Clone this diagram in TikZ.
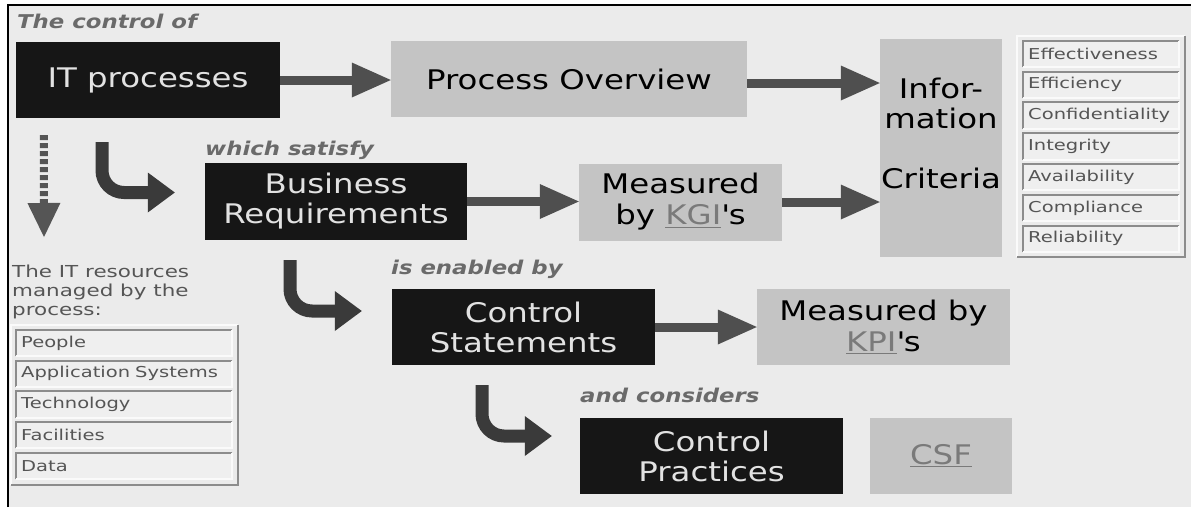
\documentclass[tikz,border=0pt]{standalone}
\usepackage{fontspec}
\setmainfont{DejaVu Sans}[FakeStretch=1.2]
\newfontfamily\listfont{DejaVu Sans}[FakeStretch=1.3]
\usetikzlibrary{arrows.meta}
\definecolor{pagegrey}{HTML}{EBEBEB}
\definecolor{boxdark}{HTML}{161616}
\definecolor{boxgrey}{HTML}{C4C4C4}
\definecolor{boxtext}{HTML}{E2E2E2}
\definecolor{headgrey}{HTML}{6A6A6A}
\definecolor{arrowgrey}{HTML}{4F4F4F}
\definecolor{bendgrey}{HTML}{3A3A3A}
\definecolor{linkgrey}{HTML}{7A7A7A}
\definecolor{itemgrey}{HTML}{555555}
\definecolor{itembg}{HTML}{EFEFEF}
\newcommand{\linkword}[1]{\textcolor{linkgrey}{\underline{#1}}}
\tikzset{
	darkbox/.style = {fill = boxdark, text = boxtext, align = center, inner sep = 0, font = \fontsize{27}{30}\selectfont},
	greybox/.style = {fill = boxgrey, text = black, align = center, inner sep = 0, font = \fontsize{27}{31}\selectfont},
	heading/.style = {anchor = base west, text = headgrey, inner sep = 0, font = \fontsize{19}{22}\selectfont\bfseries\itshape},
	flatarrow/.style = {draw = arrowgrey, line width = 9pt, -{Triangle[length = 39pt, width = 35pt, line width = 0pt]}},
	bentarrow/.style = {draw = bendgrey, line width = 13pt, rounded corners = 22pt, -{Triangle[length = 27pt, width = 40pt, line width = 0pt]}},
	dotarrow/.style = {draw = itemgrey, line width = 8pt, dash pattern = on 5pt off 3pt, -{Triangle[length = 34pt, width = 33pt, line width = 0pt]}},
	listitem/.style = {anchor = west, fill = itembg, minimum height = 26pt, inner xsep = 5pt, inner ysep = 0, align = left, text = itemgrey, font = \listfont\fontsize{15}{18}\selectfont},
	edgedark/.style = {draw = black!45, line width = 2pt},
	edgelight/.style = {draw = white!98!black, line width = 2pt}
}
\begin{document}
\begin{tikzpicture}[x = 1pt, y = -1pt]
	\useasboundingbox (0, 0) rectangle (1191, 507);
	\fill [pagegrey] (8, 5) rectangle (1191, 507);
	\draw [line width = 2.5pt] (8, 507) |- (1191, 5);

	\node[heading] (ctrlof) at (17, 28) {The control of};
	\node[heading] (satisfy) at (205, 155) {which satisfy};
	\node[heading] (enabled) at (391, 274) {is enabled by};
	\node[heading] (considers) at (580, 402) {and considers};

	\node[darkbox, minimum width = 264pt, minimum height = 76pt] (it) at (148, 80) {IT processes};
	\node[greybox, minimum width = 356pt, minimum height = 76pt] (po) at (569, 79) {Process Overview};
	\node[greybox, minimum width = 122pt, minimum height = 218pt] (info) at (941, 148) {};
	\node[anchor = north, align = center, inner sep = 0, text = black, font = \fontsize{27}{30}\selectfont] (infolabel) at (941, 77.5) {Infor-\\mation\\[30pt]Criteria};
	\node[darkbox, minimum width = 262pt, minimum height = 77pt] (br) at (336, 201.5) {Business\\Requirements};
	\node[greybox, minimum width = 203pt, minimum height = 77pt] (kgi) at (680.5, 202) {Measured\\by \linkword{KGI}\textquotesingle s};
	\node[darkbox, minimum width = 263pt, minimum height = 76pt] (cs) at (523.5, 327) {Control\\Statements};
	\node[greybox, minimum width = 253pt, minimum height = 76pt] (kpi) at (883.5, 327) {Measured by\\\linkword{KPI}\textquotesingle s};
	\node[darkbox, minimum width = 263pt, minimum height = 76pt] (cp) at (711.5, 456) {Control\\Practices};
	\node[greybox, minimum width = 142pt, minimum height = 76pt] (csf) at (941, 456) {\linkword{CSF}};

	\draw[flatarrow] (it.east) -- (it.east -| po.west);
	\draw[flatarrow] ([yshift = -4pt]po.east) -- ([yshift = -4pt]po.east -| info.west);
	\draw[flatarrow] (br.east) -- (br.east -| kgi.west);
	\draw[flatarrow] (kgi.east) -- (kgi.east -| info.west);
	\draw[flatarrow] (cs.east) -- (cs.east -| kpi.west);

	\coordinate (bend1) at (102, 142);
	\coordinate (bend2) at (290, 260);
	\coordinate (bend3) at (482, 385);
	\draw[bentarrow] (bend1) |- ([xshift = -30pt, yshift = 9pt]br.west);
	\draw[bentarrow] (bend2) |- ([xshift = -30pt, yshift = 16pt]cs.west);
	\draw[bentarrow] (bend3) |- ([xshift = -28pt, yshift = 20pt]cp.west);

	\coordinate (resarrow) at (44, 237);
	\draw[dotarrow] ([xshift = 28pt, yshift = -17pt]it.south west) -- (resarrow);

	\node[anchor = north west, align = left, inner sep = 0, text = itemgrey, font = \listfont\fontsize{16.5}{19}\selectfont] (restext) at (12, 265) {The IT resources\\managed by the\\process:};

	\draw[edgelight] (11, 485) |- (238, 325);
	\draw[edgedark] (11, 485) -| (238, 325);
	\foreach \txt [count = \i] in {People, Application Systems, Technology, Facilities, Data}{
		\node[listitem, text width = 206pt] (res\i) at (16, {312.25 + 30.75*\i}) {\txt};
		\draw[edgedark] (res\i.south west) |- (res\i.north east);
		\draw[edgelight] (res\i.south west) -| (res\i.north east);}

	\draw[edgelight] (1017, 257) |- (1185, 36);
	\draw[edgedark] (1017, 257) -| (1185, 36);
	\foreach \txt [count = \i] in {Effectiveness, Efficiency, Confidentiality, Integrity, Availability, Compliance, Reliability}{
		\node[listitem, text width = 146pt] (crit\i) at (1023, {23.2 + 30.8*\i}) {\txt};
		\draw[edgedark] (crit\i.south west) |- (crit\i.north east);
		\draw[edgelight] (crit\i.south west) -| (crit\i.north east);}
\end{tikzpicture}
\end{document}
